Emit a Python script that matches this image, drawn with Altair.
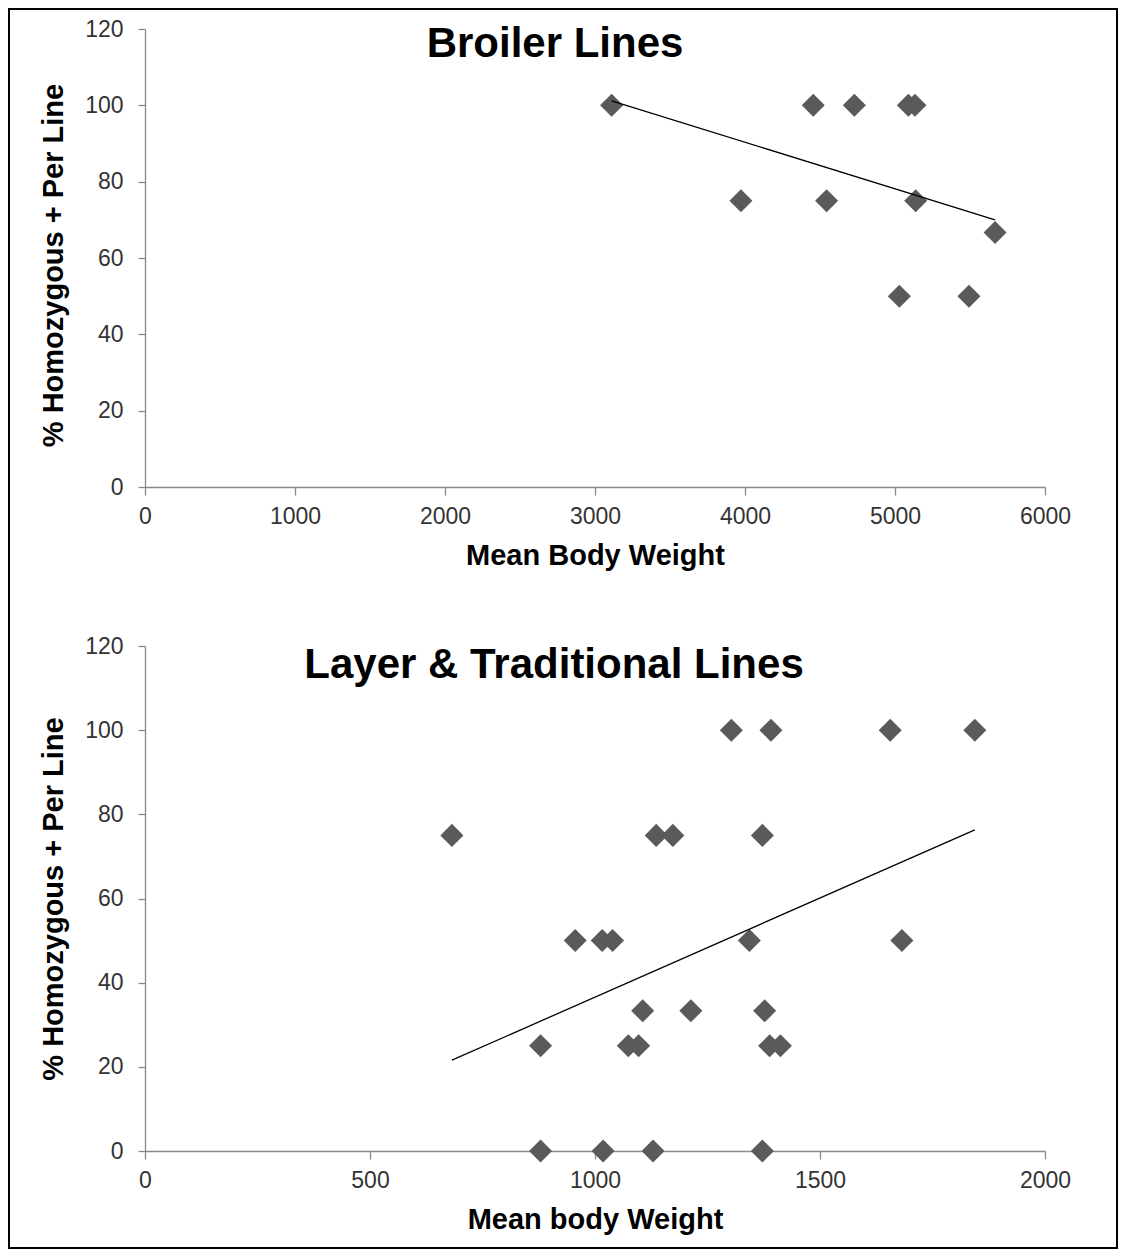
import altair as alt
import pandas as pd

# ---- data ----
broiler_weight = [3111, 4455, 4729, 5089, 5133, 3973, 4544, 5138, 5667, 5029, 5493]
broiler_pct = [100, 100, 100, 100, 100, 75, 75, 75, 66.7, 50, 50]

layer_weight = [1303, 1391, 1656, 1844,
                682, 1136, 1173, 1372,
                956, 1016, 1039, 1343, 1682,
                1106, 1213, 1377,
                879, 1074, 1097, 1388, 1412,
                879, 1018, 1129, 1372]
layer_pct = [100, 100, 100, 100,
             75, 75, 75, 75,
             50, 50, 50, 50, 50,
             33.3, 33.3, 33.3,
             25, 25, 25, 25, 25,
             0, 0, 0, 0]

panel_titles = ["Broiler Lines", "Layer & Traditional Lines"]
x_titles = ["Mean Body Weight", "Mean body Weight"]
y_title = "% Homozygous + Per Line"
broiler_ticks = [0, 1000, 2000, 3000, 4000, 5000, 6000]
layer_ticks = [0, 500, 1000, 1500, 2000]
pct_ticks = [0, 20, 40, 60, 80, 100, 120]

FONT = "Liberation Sans"
POINT = "#5a5a5a"
AXIS = "#8a8a8a"
LABEL = "#333333"


def panel(weights, pcts, title, xtitle, xticks, height, title_x, title_y, ytitle_y=None):
    df = pd.DataFrame({"w": weights, "p": pcts})
    yaxis_kw = dict(
        title=y_title, values=pct_ticks, labelPadding=15, format="d",
        titlePadding=16, tickSize=7, labelFlush=False, labelOverlap=False,
    )
    if ytitle_y is not None:
        yaxis_kw["titleY"] = ytitle_y
    x = alt.X("w:Q", scale=alt.Scale(domain=[xticks[0], xticks[-1]], nice=False),
              axis=alt.Axis(title=xtitle, values=xticks, labelPadding=10, format="d",
                            titlePadding=13, tickSize=8, labelFlush=False,
                            labelOverlap=False))
    y = alt.Y("p:Q", scale=alt.Scale(domain=[0, 120], nice=False),
              axis=alt.Axis(**yaxis_kw))
    base = alt.Chart(df)
    pts = base.mark_point(shape="diamond", filled=True, size=530, color=POINT,
                          opacity=1).encode(x=x, y=y)
    line = base.transform_regression("w", "p").mark_line(
        color="black", strokeWidth=1.3).encode(x="w:Q", y="p:Q")
    ttl = alt.Chart(pd.DataFrame({"t": [title]})).mark_text(
        font=FONT, fontSize=42, fontWeight="bold", color="black",
        align="center", baseline="alphabetic").encode(
        text="t:N", x=alt.value(title_x), y=alt.value(title_y))
    return alt.layer(pts, line, ttl).properties(width=900, height=height)


top = panel(broiler_weight, broiler_pct, panel_titles[0], x_titles[0],
            broiler_ticks, 458, 410, 28, ytitle_y=236)
bottom = panel(layer_weight, layer_pct, panel_titles[1], x_titles[1],
               layer_ticks, 505, 409, 32)

# outer frame of the figure (decoration)
frame = alt.Chart(pd.DataFrame({"f": [0]})).mark_rect(
    filled=False, stroke="black", strokeWidth=2).encode(
    x=alt.value(-136), x2=alt.value(972), y=alt.value(-637), y2=alt.value(602))
bottom = alt.layer(bottom, frame)

chart = alt.vconcat(top, bottom, spacing=159, bounds="flush").properties(
    padding=0
).configure_view(strokeWidth=0).configure_axis(
    grid=False, domainColor=AXIS, tickColor=AXIS, domainWidth=1.3, tickWidth=1.3,
    labelFont=FONT, labelFontSize=23, labelColor=LABEL,
    titleFont=FONT, titleFontSize=29, titleFontWeight="bold", titleColor="black",
)

chart.save("out.html", embed_options={"renderer": "svg", "actions": False})
